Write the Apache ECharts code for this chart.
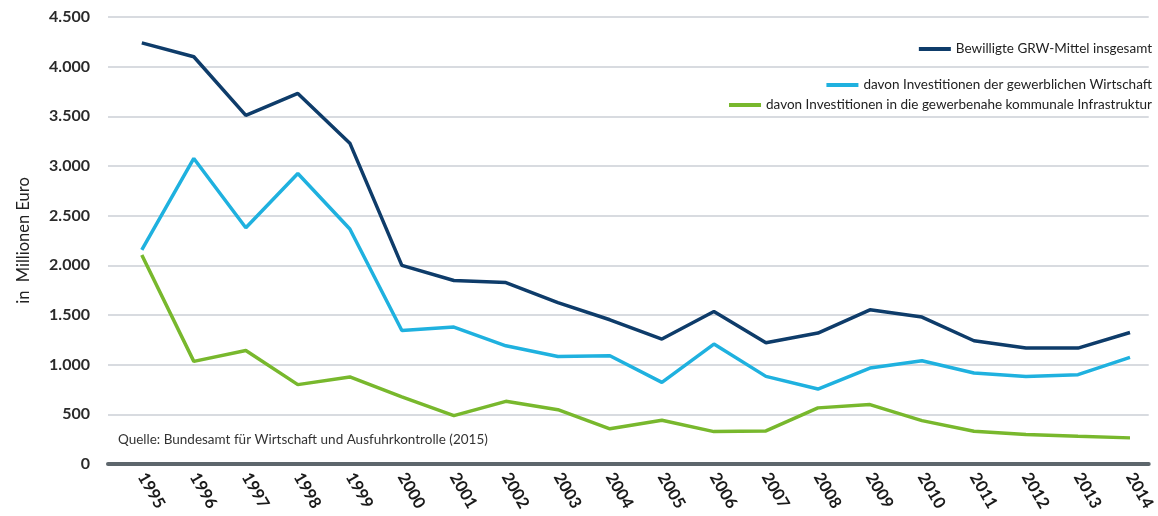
<!DOCTYPE html>
<html>
<head>
<meta charset="utf-8">
<script src="https://cdn.jsdelivr.net/npm/echarts@6/dist/echarts.min.js"></script>
<style>
  html, body { margin: 0; padding: 0; background: #fff; }
  #chart { width: 1158px; height: 516px; }
</style>
</head>
<body>
<div id="chart"></div>
<script>
// data (in Mio. Euro)
var years = [1995, 1996, 1997, 1998, 1999, 2000, 2001, 2002, 2003, 2004,
             2005, 2006, 2007, 2008, 2009, 2010, 2011, 2012, 2013, 2014];
var gesamt = [4240, 4100, 3510, 3730, 3230, 2000, 1847, 1826, 1625, 1452,
              1258, 1535, 1220, 1318, 1552, 1479, 1241, 1167, 1167, 1324];
var wirtschaft = [2155, 3076, 2379, 2925, 2366, 1344, 1378, 1190, 1083, 1090,
                  822, 1207, 882, 755, 966, 1040, 916, 882, 899, 1073];
var infrastruktur = [2105, 1033, 1143, 799, 876, 675, 487, 631, 547, 354,
                     440, 326, 333, 565, 598, 437, 330, 296, 279, 263];
var yTicks = [0, 500, 1000, 1500, 2000, 2500, 3000, 3500, 4000, 4500];
var seriesNames = [
  "Bewilligte GRW-Mittel insgesamt",
  "davon Investitionen der gewerblichen Wirtschaft",
  "davon Investitionen in die gewerbenahe kommunale Infrastruktur"
];
var colors = ["#0e3c6a", "#1fb1df", "#78b82d"];

var FONT = "Lato, 'Open Sans', sans-serif";

function pairs(vals) {
  return years.map(function (y, i) { return [y, vals[i]]; });
}

function fmt(v) {
  return String(v).replace(/\B(?=(\d{3})+(?!\d))/g, ".");
}

var chart = echarts.init(document.getElementById("chart"));

function legendFor(name, top) {
  return {
    data: [name],
    right: 1,
    top: top,
    itemWidth: 32,
    itemHeight: 4,
    itemGap: 4,
    icon: "rect",
    selectedMode: false,
    textStyle: { fontFamily: FONT, fontSize: 13.5, color: "#222" }
  };
}

chart.setOption({
  animation: false,
  grid: { left: 108, right: 3, top: 17, bottom: 52 },
  legend: [
    legendFor(seriesNames[0], 37),
    legendFor(seriesNames[1], 73),
    legendFor(seriesNames[2], 93)
  ],
  graphic: [{
    type: "text",
    left: 118,
    top: 433,
    style: {
      text: "Quelle: Bundesamt für Wirtschaft und Ausfuhrkontrolle (2015)",
      font: "13.5px " + FONT,
      fill: "#333"
    }
  }],
  xAxis: {
    type: "value",
    min: 1994.35,
    max: 2014.36,
    splitLine: { show: false },
    axisTick: { show: false },
    axisLine: { lineStyle: { color: "#5d666c", width: 4 } },
    axisLabel: {
      customValues: years,
      rotate: -60,
      margin: 10,
      fontFamily: FONT,
      fontSize: 16.5,
      fontWeight: "bold",
      color: "#1a1a1a",
      formatter: function (v) { return String(v); }
    }
  },
  yAxis: {
    type: "value",
    min: 0,
    max: 4500,
    interval: 500,
    name: "in  Millionen Euro",
    nameLocation: "middle",
    nameGap: 76,
    nameTextStyle: { fontFamily: FONT, fontSize: 16.5, color: "#222" },
    axisLine: { show: false },
    axisTick: { show: false },
    splitLine: { lineStyle: { color: "#cbcfd6", width: 1.5 } },
    axisLabel: {
      customValues: yTicks,
      margin: 18,
      fontFamily: FONT,
      fontSize: 16,
      fontWeight: "bold",
      color: "#2a2a2a",
      formatter: function (v) { return fmt(v); }
    }
  },
  series: [
    {
      name: seriesNames[0], type: "line", data: pairs(gesamt),
      showSymbol: false, z: 4,
      itemStyle: { color: colors[0] },
      lineStyle: { color: colors[0], width: 3.5 }
    },
    {
      name: seriesNames[1], type: "line", data: pairs(wirtschaft),
      showSymbol: false, z: 3,
      itemStyle: { color: colors[1] },
      lineStyle: { color: colors[1], width: 3.5 }
    },
    {
      name: seriesNames[2], type: "line", data: pairs(infrastruktur),
      showSymbol: false, z: 2,
      itemStyle: { color: colors[2] },
      lineStyle: { color: colors[2], width: 3.5 }
    }
  ]
});
</script>
</body>
</html>
